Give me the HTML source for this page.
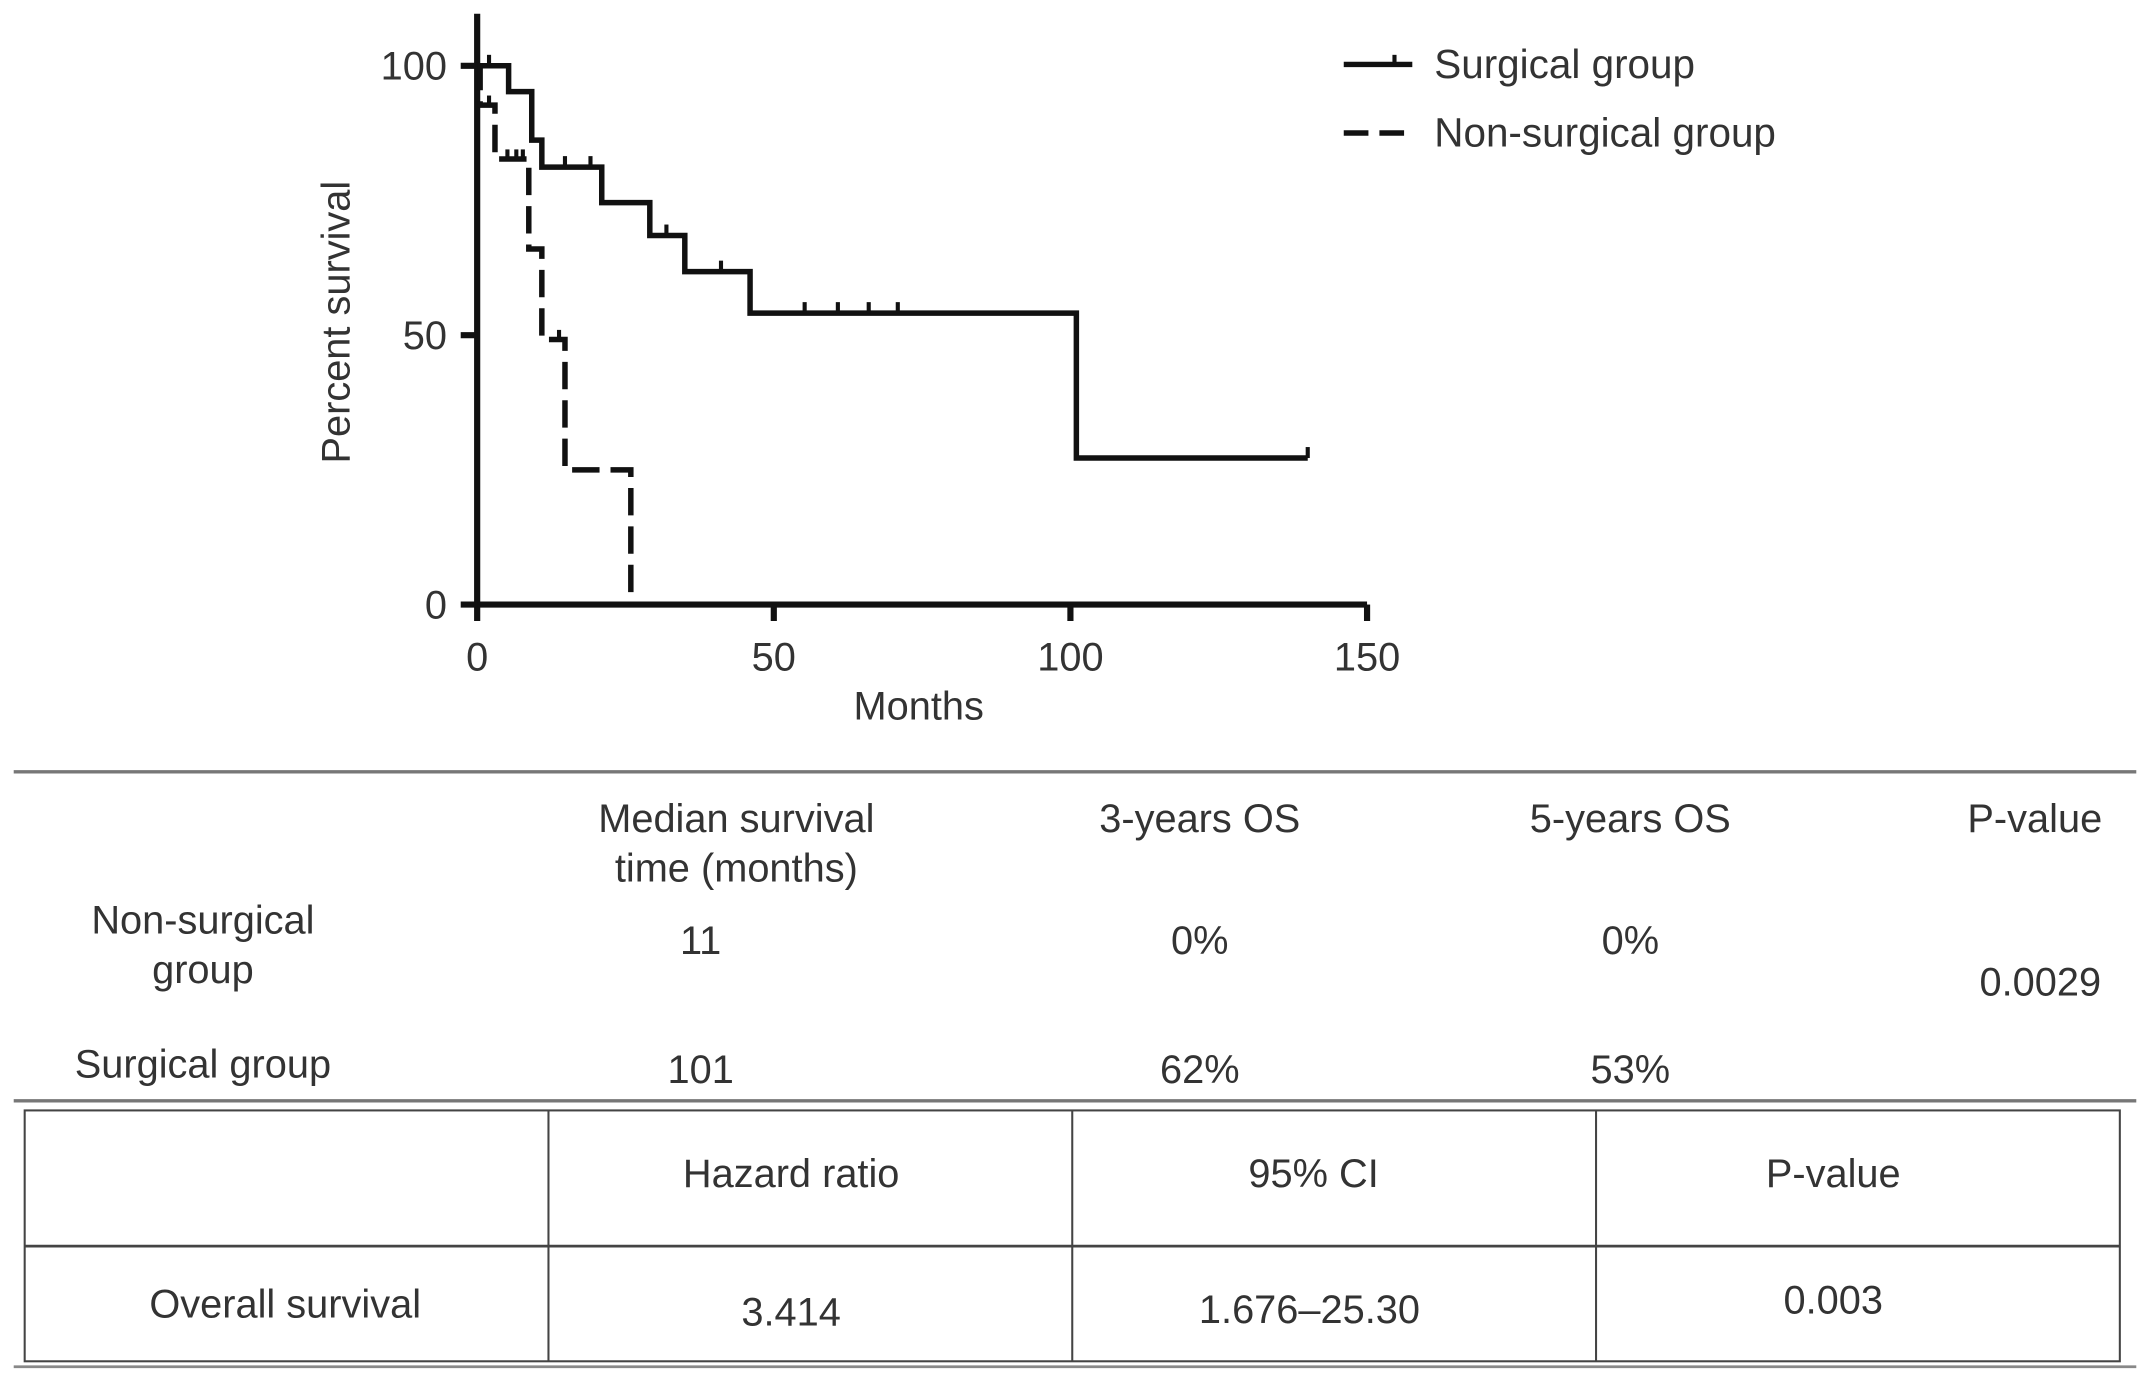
<!DOCTYPE html>
<html><head><meta charset="utf-8"><style>
html,body{margin:0;padding:0;background:#fff}
svg{display:block}
text{font-family:"Liberation Sans",sans-serif;fill:#333}
</style></head><body>
<svg id="c" width="2150" height="1375" viewBox="0 0 1568 1003" preserveAspectRatio="none">
<g id="plot"></g>
<g>
 <g>
  <line x1="980" y1="47" x2="1030" y2="47" stroke="#111" stroke-width="4"/>
  <line x1="1017" y1="47" x2="1017" y2="40" stroke="#111" stroke-width="3"/>
  <text x="1046" y="57" font-size="29.5">Surgical group</text>
 </g>
 <g>
  <line x1="980" y1="97" x2="1030" y2="97" stroke="#111" stroke-width="4" stroke-dasharray="18 8"/>
  <text x="1046" y="107" font-size="29.5">Non-surgical group</text>
 </g>
</g>
<g font-size="29" text-anchor="middle">
 <line x1="10" y1="563" x2="1558" y2="563" stroke="#777" stroke-width="2.5"/>
 <text x="537" y="607">Median survival</text><text x="537" y="643">time (months)</text>
 <text x="875" y="607">3-years OS</text><text x="1189" y="607">5-years OS</text><text x="1484" y="607">P-value</text>
 <text x="148" y="681">Non-surgical</text><text x="148" y="717">group</text>
 <text x="511" y="696">11</text><text x="875" y="696">0%</text><text x="1189" y="696">0%</text><text x="1488" y="726">0.0029</text>
 <text x="148" y="786">Surgical group</text><text x="511" y="790">101</text><text x="875" y="790">62%</text><text x="1189" y="790">53%</text>
 <line x1="10" y1="803" x2="1558" y2="803" stroke="#777" stroke-width="2.5"/>
</g>
<g font-size="29" text-anchor="middle">
 <rect x="18" y="810" width="1528" height="183" fill="none" stroke="#444" stroke-width="1.5"/>
 <line x1="18" y1="909" x2="1546" y2="909" stroke="#444" stroke-width="2"/>
 <line x1="400" y1="810" x2="400" y2="993" stroke="#444" stroke-width="1.5"/>
 <line x1="782" y1="810" x2="782" y2="993" stroke="#444" stroke-width="1.5"/>
 <line x1="1164" y1="810" x2="1164" y2="993" stroke="#444" stroke-width="1.5"/>
 <line x1="10" y1="997" x2="1558" y2="997" stroke="#888" stroke-width="2"/>
 <text x="577" y="866">Hazard ratio</text><text x="958" y="866">95% CI</text><text x="1337" y="866">P-value</text>
 <text x="208" y="961">Overall survival</text><text x="577" y="967">3.414</text><text x="955" y="965">1.676–25.30</text><text x="1337" y="958">0.003</text>
</g>
</svg>
<script>
const xTicks=[0,50,100,150];
const yTicks=[0,50,100];
const surgTimes=[0,5.3,9.2,10.9,21,29.1,35,46,101,140];
const surgVals=[100,95.2,86.2,81.2,74.6,68.5,61.8,54.1,27.2,27.2];
const surgCensor=[2,14.8,19.1,31.9,41.1,55.2,60.8,66,70.9,140];
const nonTimes=[0,0.5,3,8.7,10.9,14.8,25.9];
const nonVals=[100,92.7,82.7,66,49.2,25,0];
const nonCensor=[2,5.1,6.6,7.7,13.8];
const X=m=>348+m*(997-348)/150;
const Y=p=>441-p*(441-48)/100;
const NS='http://www.w3.org/2000/svg';
const g=document.getElementById('plot');
function mk(t,a){const e=document.createElementNS(NS,t);for(const k in a)e.setAttribute(k,a[k]);g.appendChild(e);return e;}
let ax=mk('path',{d:`M${X(0)},10 V${Y(0)} H${X(150)}`,fill:'none',stroke:'#111','stroke-width':4.5});


xTicks.forEach(t=>{
 const l=mk('line',{x1:X(t),y1:Y(0),x2:X(t),y2:Y(0)+12,stroke:'#111','stroke-width':4.5});
 
 
 const tx=mk('text',{x:X(t),y:489,'font-size':29,'text-anchor':'middle'});tx.textContent=t;
 
 
});
yTicks.forEach(t=>{
 const l=mk('line',{x1:X(0)-12,y1:Y(t),x2:X(0),y2:Y(t),stroke:'#111','stroke-width':4.5});
 
 
 const tx=mk('text',{x:326,y:Y(t)+10,'font-size':29,'text-anchor':'end'});tx.textContent=t;
 
 
});
let xt=mk('text',{x:670,y:525,'font-size':29,'text-anchor':'middle'});xt.textContent='Months';


let yt=mk('text',{x:0,y:0,'font-size':29,'text-anchor':'middle',transform:'translate(255,235) rotate(-90)'});yt.textContent='Percent survival';


function step(ts,vs){let d=`M${X(ts[0])},${Y(vs[0])}`;for(let i=1;i<ts.length;i++){d+=` H${X(ts[i])} V${Y(vs[i])}`;}return d;}
function valAt(ts,vs,t){let v=vs[0];for(let i=0;i<ts.length;i++)if(ts[i]<=t)v=vs[i];return v;}
let ps=mk('path',{d:step(surgTimes,surgVals),fill:'none',stroke:'#111','stroke-width':4});


surgCensor.forEach(t=>{const v=valAt(surgTimes,surgVals,t);const c=mk('line',{x1:X(t),y1:Y(v),x2:X(t),y2:Y(v)-8,stroke:'#111','stroke-width':3});
 
 });
let pn=mk('path',{d:step(nonTimes,nonVals),fill:'none',stroke:'#111','stroke-width':4,'stroke-dasharray':'20 8'});


nonCensor.forEach(t=>{const v=valAt(nonTimes,nonVals,t);const c=mk('line',{x1:X(t),y1:Y(v),x2:X(t),y2:Y(v)-7,stroke:'#111','stroke-width':3});
 
 });
</script>
</body></html>
